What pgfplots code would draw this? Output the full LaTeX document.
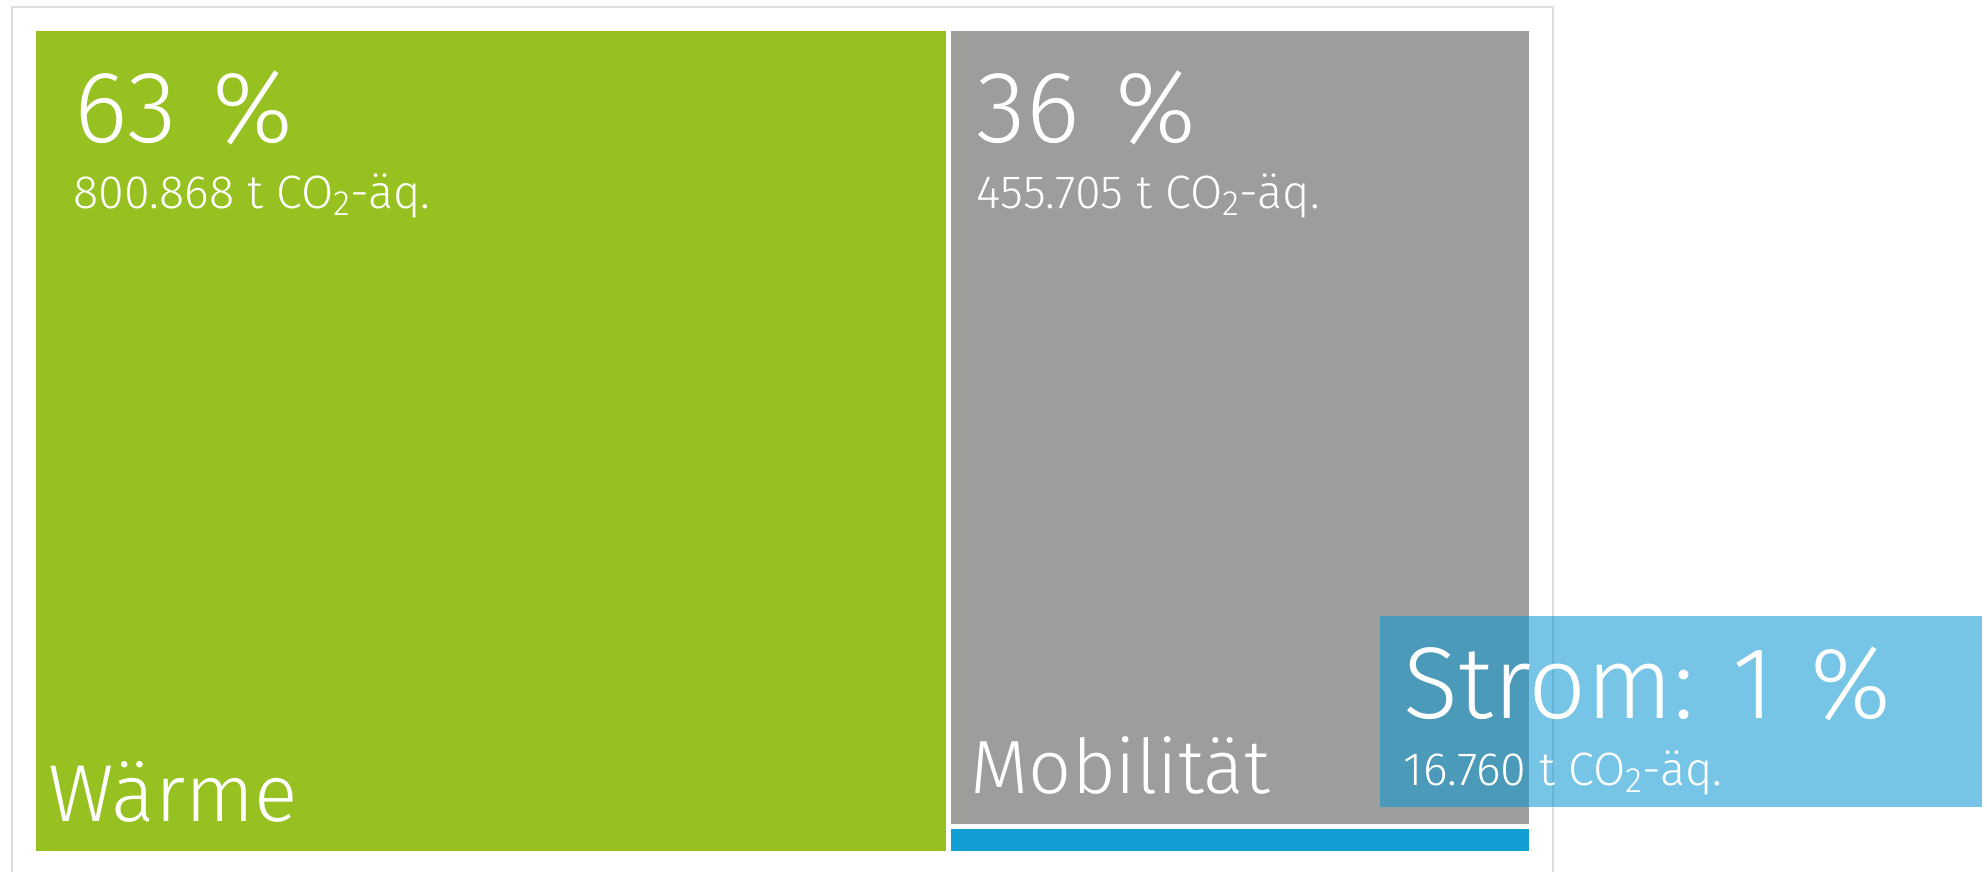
\documentclass[border=0pt]{standalone}
\usepackage{fontspec}
\setmainfont{Fira Sans Light}
\usepackage{pgfplots}
\pgfplotsset{compat=1.18}
\definecolor{waerme}{HTML}{96C121}
\definecolor{mobil}{HTML}{9D9D9B}
\definecolor{strom}{HTML}{129FD6}
\definecolor{tip}{HTML}{0D98D3}
\definecolor{frame}{HTML}{DCDCDC}
\tikzset{lbl/.style={inner sep=0pt,anchor=base west,text=white}}
\newcommand{\sub}[1]{\raisebox{-0.32ex}{\fontsize{10}{10}\selectfont #1}}

% treemap, drawn in pixel units (y downwards)
\begin{document}
\begin{tikzpicture}
\useasboundingbox (0,0) rectangle (19.87cm,8.71cm);
\begin{axis}[scale only axis,width=19.87cm,height=8.71cm,
    xmin=0,xmax=1987,ymin=0,ymax=871,y dir=reverse,hide axis]
  % outer frame
  \addplot[draw=frame,line width=0.6pt] coordinates {(12,900)(12,7)(1553,7)(1553,900)};
  % tiles
  \addplot[fill=waerme,draw=none] coordinates {(36,31)(946,31)(946,851)(36,851)} -- cycle;
  \addplot[fill=mobil,draw=none] coordinates {(951,31)(1529,31)(1529,824)(951,824)} -- cycle;
  \addplot[fill=strom,draw=none] coordinates {(951,829)(1529,829)(1529,851)(951,851)} -- cycle;
  % labels
  \node[lbl,font=\fontsize{29}{30}\selectfont] at (axis cs:74,142) {63\hspace{0.35em}\%};
  \node[lbl,font=\fontsize{13.3}{14}\selectfont] at (axis cs:73,208) {800.868 t CO\sub{2}-äq.};
  \node[lbl,font=\fontsize{23}{25}\selectfont] at (axis cs:48,821) {Wärme};
  \node[lbl,font=\fontsize{29}{30}\selectfont] at (axis cs:976,142) {36\hspace{0.35em}\%};
  \node[lbl,font=\fontsize{13.3}{14}\selectfont] at (axis cs:976,208) {455.705 t CO\sub{2}-äq.};
  \node[lbl,font=\fontsize{21.5}{23}\selectfont] at (axis cs:970,793) {Mobilität};
  % tooltip
  \addplot[fill=tip,fill opacity=0.56,draw=none] coordinates {(1380,616)(1982,616)(1982,807)(1380,807)} -- cycle;
  \node[lbl,font=\fontsize{29}{30}\selectfont] at (axis cs:1403,718) {Strom: 1\hspace{0.35em}\%};
  \node[lbl,font=\fontsize{13.3}{14}\selectfont] at (axis cs:1403,785) {16.760 t CO\sub{2}-äq.};
\end{axis}
\end{tikzpicture}
\end{document}
